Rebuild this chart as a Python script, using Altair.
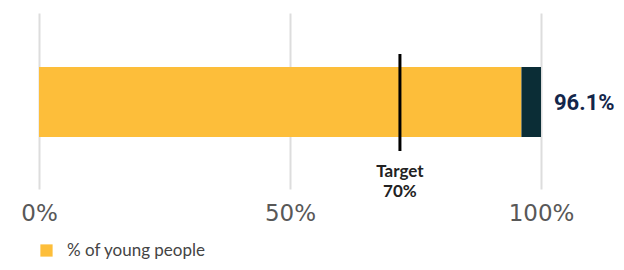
import altair as alt
import pandas as pd

segments = ["% of young people", "Remainder"]
starts = [0, 96.1]
ends = [96.1, 100]
value_label = "96.1%"
value = 100
target_pos = 71.9
target_label = ["Target", "70%"]
ticks = [0, 50, 100]

YELLOW = "#FDBE3A"
DARK = "#0B2D36"

bars = pd.DataFrame({"segment": segments, "start": starts, "end": ends})

xscale = alt.Scale(domain=[0, 100], nice=False, zero=True)

bar = alt.Chart(bars).mark_bar().encode(
    x=alt.X("start:Q", scale=xscale,
            axis=alt.Axis(values=ticks, labelExpr="datum.value + '%'", title=None,
                          grid=True, gridColor="#dddddd", gridWidth=2,
                          domain=False, ticks=False, labelFontSize=23,
                          labelFont="DejaVu Sans", labelColor="#585858", labelPadding=13,
                          labelFlush=False)),
    x2="end:Q",
    y=alt.value(54), y2=alt.value(124),
    color=alt.Color("segment:N",
                    scale=alt.Scale(domain=segments, range=[YELLOW, DARK]),
                    legend=alt.Legend(values=[segments[0]], title=None, orient="none",
                                      legendX=-1, legendY=229, symbolType="square",
                                      symbolSize=150, symbolStrokeWidth=0,
                                      labelFont="Lato", labelFontSize=17, labelOffset=12,
                                      labelColor="#444444", symbolOpacity=1)),
)

lab = alt.Chart(pd.DataFrame({"x": [value], "t": [value_label]})).mark_text(
    align="left", baseline="middle", dx=13, dy=1, font="Roboto",
    fontWeight="bold", fontSize=22, color="#13264A"
).encode(x=alt.X("x:Q", scale=xscale), y=alt.value(89), text="t:N")

tgt = pd.DataFrame({"x": [target_pos], "t": [target_label]})
rule = alt.Chart(tgt).mark_rule(color="#000000", strokeWidth=3).encode(
    x=alt.X("x:Q", scale=xscale), y=alt.value(41), y2=alt.value(138))
ttext = alt.Chart(tgt).mark_text(
    align="center", baseline="top", font="Lato", fontWeight="bold",
    fontSize=17, lineHeight=20, color="#222222"
).encode(x=alt.X("x:Q", scale=xscale), y=alt.value(151), text="t")

chart = alt.layer(bar, rule, ttext, lab).properties(
    width=502, height=176,
    autosize=alt.AutoSizeParams(type="none"),
    padding={"left": 31, "top": 5, "right": 75, "bottom": 73},
).configure_view(stroke=None)

chart.save("out.html", embed_options={"renderer": "svg", "actions": False})
